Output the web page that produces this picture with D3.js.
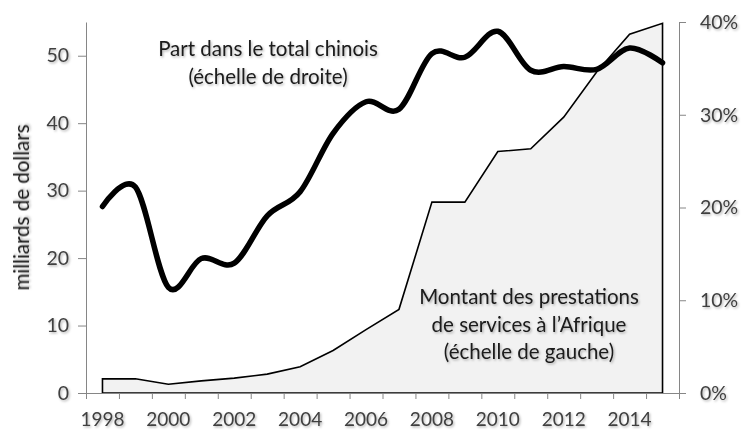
<!DOCTYPE html>
<html>
<head>
<meta charset="utf-8">
<script src="https://cdn.jsdelivr.net/npm/d3@7"></script>
<style>
  body { margin: 0; background: #fff; }
  svg { display: block; font-family: Lato, "Open Sans", sans-serif; }
</style>
</head>
<body>
<div id="chart"></div>
<script>
// Prestations de services de la Chine à l'Afrique, 1998-2015

const years = [1998, 1999, 2000, 2001, 2002, 2003, 2004, 2005, 2006,
               2007, 2008, 2009, 2010, 2011, 2012, 2013, 2014, 2015];

// milliards de dollars (échelle de gauche)
const montant = [2.1, 2.1, 1.3, 1.8, 2.2, 2.8, 3.9, 6.3, 9.4,
                 12.4, 28.3, 28.3, 35.8, 36.2, 40.9, 47.6, 53.2, 54.8];

// part dans le total chinois, en % (échelle de droite)
const part = [20.1, 22.2, 11.4, 14.5, 14.0, 19.1, 21.7, 28.0, 31.4,
              30.6, 36.6, 36.2, 39.0, 34.8, 35.2, 34.9, 37.2, 35.6];

const xLabels = [1998, 2000, 2002, 2004, 2006, 2008, 2010, 2012, 2014];
const leftTicks = [0, 10, 20, 30, 40, 50];
const rightTicks = [0, 10, 20, 30, 40];

const width = 741, height = 432;
const plot = { left: 86, right: 679, top: 22, bottom: 393 };

const svg = d3.select('#chart').append('svg')
    .attr('width', width)
    .attr('height', height);

// soft shadow like the Excel text effect
svg.append('defs').append('filter')
    .attr('id', 'shadow')
    .attr('x', '-10%').attr('y', '-10%')
    .attr('width', '130%').attr('height', '140%')
    .append('feDropShadow')
    .attr('dx', 1.2).attr('dy', 1.4)
    .attr('stdDeviation', 0.9)
    .attr('flood-color', '#000')
    .attr('flood-opacity', 0.3);

const x = d3.scaleBand()
    .domain(years)
    .range([plot.left, plot.right])
    .padding(0);
const xc = d => x(d) + x.bandwidth() / 2;

// category boundaries for the tick marks
const xb = d3.scaleLinear()
    .domain([0, years.length])
    .range([plot.left, plot.right]);

const yL = d3.scaleLinear().domain([0, 55]).range([plot.bottom, plot.top]);
const yR = d3.scaleLinear().domain([0, 40]).range([plot.bottom, plot.top]);

// area
const area = d3.area()
    .x((d, i) => xc(years[i]))
    .y0(yL(0))
    .y1(d => yL(d));

svg.append('path')
    .datum(montant)
    .attr('d', area)
    .attr('fill', '#f2f2f2')
    .attr('stroke', '#000')
    .attr('stroke-width', 1.6)
    .attr('stroke-linejoin', 'miter');

// smoothed line
const line = d3.line()
    .x((d, i) => xc(years[i]))
    .y(d => yR(d))
    .curve(d3.curveCardinal.tension(0));

svg.append('path')
    .datum(part)
    .attr('d', line)
    .attr('fill', 'none')
    .attr('stroke', '#000')
    .attr('stroke-width', 5.5)
    .attr('stroke-linecap', 'round')
    .attr('stroke-linejoin', 'round');

const axisColor = '#868686';
const labelColor = '#404040';

function styleAxis(g, size = 19.5) {
    g.select('.domain').attr('stroke', axisColor);
    g.selectAll('.tick line').attr('stroke', axisColor);
    g.selectAll('.tick text')
        .attr('fill', labelColor)
        .attr('font-size', size + 'px')
        .attr('font-family', 'Lato, sans-serif')
        .attr('filter', 'url(#shadow)');
}

// x axis: tick marks between categories
svg.append('g')
    .attr('transform', `translate(0,${plot.bottom})`)
    .call(d3.axisBottom(xb)
        .tickValues(d3.range(0, years.length + 1))
        .tickFormat('')
        .tickSize(6)
        .tickSizeOuter(0))
    .call(styleAxis);

// x labels centred on categories
svg.append('g')
    .attr('transform', `translate(0,${plot.bottom})`)
    .call(d3.axisBottom(x)
        .tickValues(xLabels)
        .tickSize(0)
        .tickPadding(20))
    .call(g => g.select('.domain').remove())
    .call(g => styleAxis(g, 19));

// left axis
svg.append('g')
    .attr('transform', `translate(${plot.left},0)`)
    .call(d3.axisLeft(yL)
        .tickValues(leftTicks)
        .tickSize(8)
        .tickSizeOuter(0)
        .tickPadding(9))
    .call(styleAxis);

// right axis
svg.append('g')
    .attr('transform', `translate(${plot.right},0)`)
    .call(d3.axisRight(yR)
        .tickValues(rightTicks)
        .tickFormat(d => d + '%')
        .tickSize(7)
        .tickSizeOuter(7)
        .tickPadding(14))
    .call(styleAxis);

// left axis title
svg.append('text')
    .attr('transform', `translate(29,${(plot.top + plot.bottom) / 2}) rotate(-90)`)
    .attr('text-anchor', 'middle')
    .attr('font-size', '20.5px')
    .attr('fill', '#1a1a1a')
    .attr('filter', 'url(#shadow)')
    .text('milliards de dollars');

// annotations
function annotate(lines, cx, baseline) {
    const t = svg.append('text')
        .attr('text-anchor', 'middle')
        .attr('font-size', '20.5px')
        .attr('fill', '#1a1a1a')
        .attr('filter', 'url(#shadow)');
    lines.forEach((s, i) => {
        t.append('tspan')
            .attr('x', cx)
            .attr('y', baseline + i * 27.5)
            .text(s);
    });
}

annotate(['Part dans le total chinois', '(échelle de droite)'], 268, 56);
annotate(['Montant des prestations', 'de services à l\u2019Afrique', '(échelle de gauche)'], 529, 304);
</script>
</body>
</html>
